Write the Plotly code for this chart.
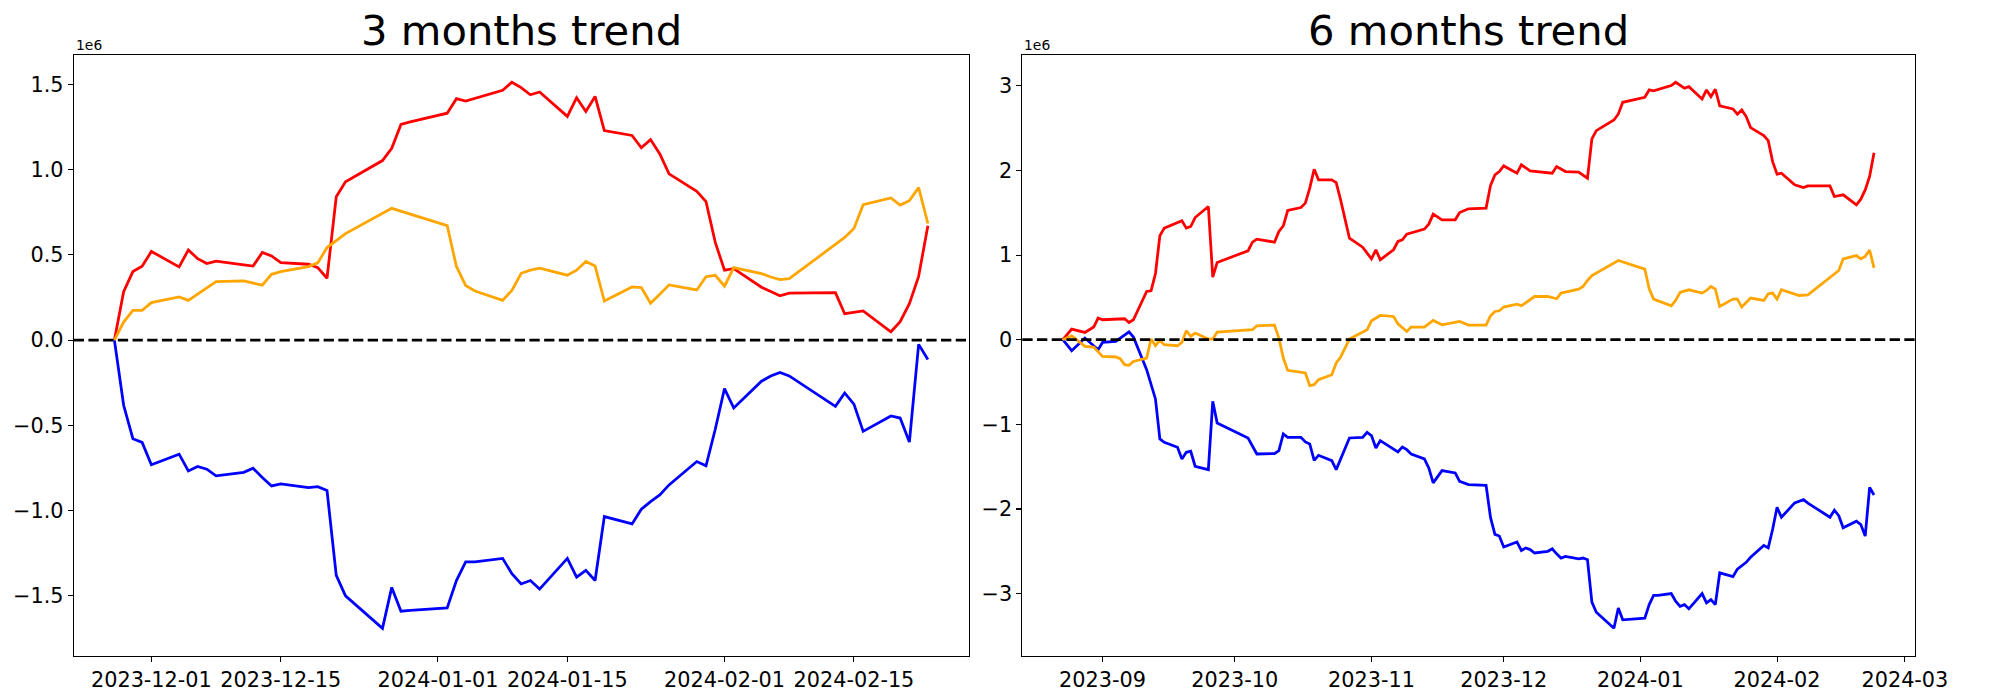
import pandas as pd
import plotly.graph_objects as go

# ---------------- data (values in units of 1e6) ----------------
START_3M = "2023-11-27"
START_6M = "2023-08-23"

days3 = [0, 1, 2, 3, 4, 7, 8, 9, 10, 11, 14, 15, 16, 17, 18, 21, 22, 23, 24, 25,
         29, 30, 31, 32, 36, 37, 38, 39, 42, 43, 44, 45, 46, 49, 50, 51, 52, 53,
         56, 57, 58, 59, 60, 63, 64, 65, 66, 67, 70, 71, 72, 73, 78, 79, 80, 81,
         84, 85, 86, 87, 88]
red3 = [0, 0.284, 0.402, 0.433, 0.52, 0.429, 0.529, 0.478, 0.449, 0.463,
        0.441, 0.434, 0.514, 0.494, 0.455, 0.445, 0.425, 0.363, 0.841, 0.929,
        1.053, 1.125, 1.265, 1.28, 1.331, 1.416, 1.402, 1.418,
        1.465, 1.512, 1.481, 1.439, 1.455, 1.312, 1.422, 1.341, 1.429, 1.229,
        1.2, 1.128, 1.176, 1.092, 0.975, 0.873, 0.812, 0.573, 0.41, 0.419,
        0.31, 0.285, 0.26, 0.275, 0.278, 0.155, 0.163, 0.171,
        0.049, 0.108, 0.214, 0.374, 0.671]
blue3 = [0, -0.382, -0.578, -0.60, -0.731, -0.669, -0.767, -0.741, -0.757, -0.796,
         -0.775, -0.751, -0.806, -0.855, -0.843, -0.865, -0.859, -0.882, -1.38, -1.50,
         -1.69, -1.45, -1.59, -1.585, -1.57, -1.41, -1.30, -1.30,
         -1.28, -1.37, -1.43, -1.41, -1.46, -1.28, -1.39, -1.35, -1.41, -1.035,
         -1.078, -0.992, -0.947, -0.908, -0.849, -0.712, -0.737, -0.523, -0.284, -0.398,
         -0.241, -0.21, -0.19, -0.21, -0.388, -0.31, -0.375, -0.535,
         -0.445, -0.457, -0.598, -0.025, -0.114]

orange3_days = [0, 1, 2, 3, 4, 7, 8, 9, 10, 11, 14, 15, 16, 17, 18, 21, 22, 23, 24, 25,
                30, 36, 37, 38, 39, 42, 43, 44, 45, 46, 49, 50, 51, 52, 53,
                56, 57, 58, 59, 60, 63, 64, 65, 66, 67, 70, 71, 72, 73,
                79, 80, 81, 84, 85, 86, 87, 88]
orange3 = [0, 0.106, 0.175, 0.175, 0.22, 0.253, 0.233, 0.269, 0.308, 0.343,
           0.347, 0.335, 0.322, 0.386, 0.402, 0.431, 0.453, 0.543, 0.586, 0.625,
           0.773, 0.671, 0.432, 0.32, 0.288, 0.233, 0.292, 0.392, 0.41, 0.422,
           0.381, 0.41, 0.461, 0.435, 0.229, 0.312, 0.308, 0.216, 0.269, 0.324,
           0.294, 0.372, 0.38, 0.316, 0.425, 0.39, 0.37, 0.355, 0.36,
           0.602, 0.655, 0.794, 0.834, 0.792, 0.818, 0.894, 0.684]

red6_days = [0, 2, 5, 7, 8, 9, 14, 15, 16, 19,
             20, 21, 22, 23, 27, 28, 29, 30, 33, 34,
             35, 42, 43, 44, 48, 49, 50, 51, 54, 55,
             56, 57, 58, 61, 62, 63, 65, 68, 70, 71,
             72, 75, 76, 77, 78, 82, 83, 84, 86, 89,
             90, 92, 96, 97, 98, 99, 100, 103, 104, 106,
             111, 112, 114, 117, 119, 120, 121, 125, 126, 127,
             132, 133, 134, 138, 139, 141, 142, 145, 146, 147,
             148, 149, 152, 153, 154, 155, 156, 159, 160, 161,
             162, 163, 166, 168, 169, 174, 175, 177, 180, 181,
             182, 183, 184]
red6 = [0, 0.126, 0.086, 0.15, 0.256, 0.236, 0.248, 0.204, 0.236, 0.57,
        0.578, 0.78, 1.228, 1.319, 1.405, 1.319, 1.338, 1.444, 1.574, 0.74,
        0.913, 1.051, 1.153, 1.189, 1.153, 1.279, 1.346, 1.527, 1.562, 1.614,
        1.791, 2.015, 1.889, 1.889, 1.857, 1.653, 1.2, 1.094, 0.956, 1.063,
        0.945, 1.063, 1.161, 1.181, 1.248, 1.307, 1.366, 1.484, 1.417, 1.417,
        1.503, 1.547, 1.555, 1.822, 1.948, 1.987, 2.054, 1.968, 2.066, 1.995,
        1.968, 2.046, 1.987, 1.98, 1.909, 2.373, 2.471, 2.597, 2.668, 2.806,
        2.865, 2.952, 2.94, 3.003, 3.042, 2.972, 2.991, 2.845, 2.952, 2.873,
        2.96, 2.763, 2.727, 2.665, 2.716, 2.637, 2.507, 2.412, 2.353, 2.105,
        1.956, 1.968, 1.83, 1.798, 1.818, 1.818, 1.692, 1.712, 1.594, 1.661,
        1.77, 1.93, 2.21]

blue6_days = [0, 2, 5, 8, 9, 12, 15, 16, 19, 20,
              21, 22, 23, 26, 27, 28, 29, 30, 33, 34,
              35, 42, 43, 44, 48, 49, 50, 51, 54, 55,
              56, 57, 58, 61, 62, 65, 68, 69, 70, 71,
              72, 75, 76, 77, 78, 79, 82, 83, 84, 86,
              89, 90, 92, 96, 97, 98, 99, 100, 103, 104,
              105, 106, 107, 110, 111, 112, 113, 114, 117, 118,
              119, 120, 121, 125, 126, 127, 128, 132, 133, 134,
              135, 138, 139, 140, 141, 142, 145, 146, 147, 148,
              149, 152, 153, 154, 155, 156, 159, 160, 161, 162,
              163, 166, 167, 168, 169, 174, 175, 176, 177, 180,
              181, 182, 183, 184]
blue6 = [0, -0.13, 0.02, -0.118, -0.032, -0.02, 0.094, 0.032, -0.354, -0.53,
         -0.70, -1.172, -1.212, -1.271, -1.409, -1.33, -1.318, -1.495, -1.535, -0.728,
         -0.984, -1.161, -1.25, -1.35, -1.346, -1.31, -1.113, -1.153, -1.153, -1.208,
         -1.231, -1.425, -1.366, -1.429, -1.535, -1.161, -1.153, -1.094, -1.133, -1.279,
         -1.192, -1.291, -1.326, -1.267, -1.299, -1.35, -1.409, -1.515, -1.692, -1.547,
         -1.574, -1.673, -1.712, -1.72, -2.10, -2.30, -2.32, -2.45, -2.39, -2.49,
         -2.46, -2.48, -2.52, -2.50, -2.47, -2.53, -2.58, -2.56, -2.59, -2.58,
         -2.60, -3.10, -3.22, -3.41, -3.17, -3.31, -3.305, -3.29, -3.13, -3.02,
         -3.02, -3.00, -3.09, -3.15, -3.13, -3.18, -3.00, -3.11, -3.07, -3.13,
         -2.755, -2.80, -2.71, -2.67, -2.63, -2.57, -2.43, -2.46, -2.24, -1.98,
         -2.098, -1.928, -1.91, -1.889, -1.93, -2.098, -2.015, -2.08, -2.223, -2.145,
         -2.184, -2.32, -1.745, -1.834]

orange6_days = [0, 2, 5, 7, 9, 12, 13, 14, 15, 16,
                19, 20, 21, 22, 23, 26, 27, 28, 29, 30,
                33, 34, 35, 43, 44, 48, 49, 50, 51, 54,
                55, 56, 57, 58, 61, 62, 63, 65, 68, 69,
                70, 72, 75, 76, 78, 79, 82, 84, 86, 90,
                92, 96, 97, 98, 99, 100, 103, 104, 107, 110,
                112, 113, 117, 118, 119, 120, 126, 132, 133, 134,
                138, 139, 140, 142, 145, 146, 147, 148, 149, 152,
                153, 154, 156, 159, 160, 161, 162, 163, 167, 169,
                176, 177, 180, 181, 182, 183, 184]
orange6 = [0, 0.047, -0.079, -0.086, -0.197, -0.204, -0.224, -0.295, -0.303, -0.256,
           -0.216, 0.008, -0.071, -0.008, -0.059, -0.071, -0.032, 0.106, 0.039, 0.079,
           0.008, 0.008, 0.091, 0.118, 0.165, 0.173, 0.02, -0.216, -0.362, -0.386,
           -0.393, -0.543, -0.531, -0.472, -0.413, -0.275, -0.204, 0.008, 0.098, 0.118,
           0.224, 0.287, 0.275, 0.189, 0.098, 0.15, 0.15, 0.228, 0.177, 0.216,
           0.173, 0.173, 0.283, 0.334, 0.342, 0.386, 0.421, 0.401, 0.511, 0.511,
           0.484, 0.551, 0.598, 0.629, 0.70, 0.759, 0.936, 0.835, 0.602, 0.48,
           0.401, 0.464, 0.559, 0.59, 0.551, 0.582, 0.629, 0.598, 0.393, 0.48,
           0.48, 0.386, 0.492, 0.464, 0.543, 0.551, 0.48, 0.59, 0.523, 0.531,
           0.818, 0.956, 0.995, 0.956, 0.985, 1.06, 0.85]

titles = ["3 months trend", "6 months trend"]
xticks3 = ["2023-12-01", "2023-12-15", "2024-01-01", "2024-01-15", "2024-02-01", "2024-02-15"]
xticks6 = ["2023-09-01", "2023-10-01", "2023-11-01", "2023-12-01", "2024-01-01", "2024-02-01", "2024-03-01"]
yticks3 = [-1.5, -1.0, -0.5, 0.0, 0.5, 1.0, 1.5]
yticks6 = [-3, -2, -1, 0, 1, 2, 3]
colors = ["red", "blue", "orange"]

# ---------------- helpers ----------------
W, H = 2000, 700
FONT = "DejaVu Sans"
LW = 2.78


def dates(start, offs):
    return pd.Timestamp(start) + pd.to_timedelta(offs, unit="D")


def xrange_of(xs):
    lo, hi = min(x.min() for x in xs), max(x.max() for x in xs)
    pad = (hi - lo) * 0.05
    return [lo - pad, hi + pad]


def yrange_of(ys):
    lo, hi = min(min(y) for y in ys), max(max(y) for y in ys)
    pad = (hi - lo) * 0.05
    return [lo - pad, hi + pad]


def fmt(v, dec):
    s = f"{v:.{dec}f}"
    return s.replace("-", "\u2212")


x_red3, x_blue3, x_or3 = dates(START_3M, days3), dates(START_3M, days3), dates(START_3M, orange3_days)
x_red6, x_blue6, x_or6 = dates(START_6M, red6_days), dates(START_6M, blue6_days), dates(START_6M, orange6_days)

fig = go.Figure()
panels = [
    ("x", "y", [(x_red3, red3), (x_blue3, blue3), (x_or3, orange3)]),
    ("x2", "y2", [(x_red6, red6), (x_blue6, blue6), (x_or6, orange6)]),
]
for xa, ya, series in panels:
    for (xs, ys), c in zip(series, colors):
        fig.add_trace(go.Scatter(x=xs, y=ys, mode="lines", xaxis=xa, yaxis=ya,
                                 line=dict(color=c, width=LW), showlegend=False,
                                 hoverinfo="skip"))

dom_x1 = [75 / W, 985.3 / W]
dom_x2 = [1040 / W, 1947.7 / W]
dom_y = [1 - 655.6 / H, 1 - 55 / H]

axis_common = dict(showgrid=False, zeroline=False, showline=True, mirror=True,
                   linecolor="black", linewidth=1.1, ticks="outside", ticklen=4.9,
                   tickwidth=1.1, tickcolor="black",
                   tickfont=dict(family=FONT, size=20.8, color="black"))

fig.update_layout(
    width=W, height=H, margin=dict(l=0, r=0, t=0, b=0),
    paper_bgcolor="white", plot_bgcolor="white", showlegend=False,
    hovermode=False,
    xaxis=dict(domain=dom_x1, anchor="y", type="date",
               range=xrange_of([x_red3, x_blue3, x_or3]),
               tickvals=xticks3, ticktext=xticks3, **axis_common),
    yaxis=dict(domain=dom_y, anchor="x", range=yrange_of([red3, blue3, orange3]),
               tickvals=yticks3, ticktext=[fmt(v, 1) for v in yticks3], **axis_common),
    xaxis2=dict(domain=dom_x2, anchor="y2", type="date",
                range=xrange_of([x_red6, x_blue6, x_or6]),
                tickvals=xticks6, ticktext=[t[:7] for t in xticks6], **axis_common),
    yaxis2=dict(domain=dom_y, anchor="x2", range=yrange_of([red6, blue6, orange6]),
                tickvals=yticks6, ticktext=[fmt(v, 0) for v in yticks6], **axis_common),
)

# zero dashed reference lines
for xr, yr in [("x domain", "y"), ("x2 domain", "y2")]:
    fig.add_shape(type="line", xref=xr, yref=yr, x0=0, x1=1, y0=0, y1=0,
                  line=dict(color="black", width=LW, dash="10.3px,4.4px"), layer="above")

# titles and offset labels
for dom, t in zip([dom_x1, dom_x2], titles):
    fig.add_annotation(text=t, xref="paper", yref="paper", x=(dom[0] + dom[1]) / 2,
                       y=1 - 57 / H, xanchor="center", yanchor="bottom", showarrow=False,
                       font=dict(family=FONT, size=41.7, color="black"))
    fig.add_annotation(text="1e6", xref="paper", yref="paper", x=dom[0], y=1 - 55 / H,
                       xanchor="left", yanchor="bottom", showarrow=False,
                       font=dict(family=FONT, size=13.9, color="black"))

fig.write_html("out.html",
               config={"displayModeBar": False, "staticPlot": True},
               post_script="document.body.style.margin='0px';"
                           "document.documentElement.style.overflow='hidden';")
